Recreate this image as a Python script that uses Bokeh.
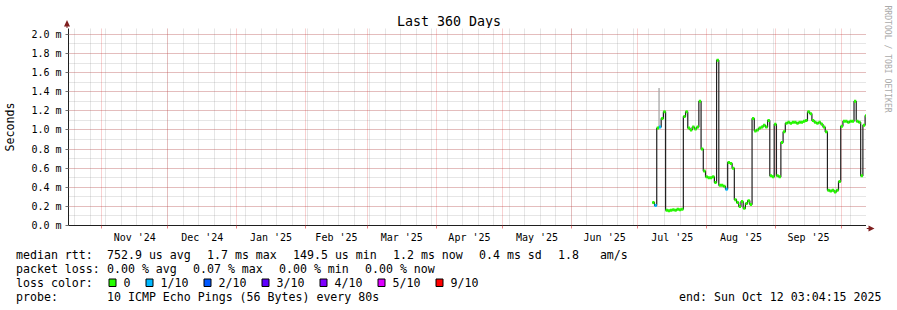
import math
import re
import pandas as pd
from bokeh.plotting import figure
from bokeh.layouts import column, row
from bokeh.models import (Range1d, FixedTicker, PrintfTickFormatter, Grid,
                          ColumnDataSource, CustomJSTickFormatter)
from bokeh.core.properties import value
from bokeh.embed import file_html
from bokeh.resources import INLINE

# ---------------- data ----------------
title = "Last 360 Days"
end_time = "2025-10-12 03:04:15"
span_days = 360
series_start = "2025-07-07 12:00"
step_hours = 24

median_ms = [0.24, 0.21, 1.02, 1.03, 1.12, 1.19, 0.16, 0.155, 0.16, 0.165,
             0.16, 0.17, 0.165, 0.17, 1.14, 1.19, 1.02, 1.00, 1.03, 1.01,
             1.03, 1.30, 0.80, 0.57, 0.51, 0.50, 0.50, 0.51, 0.45, 1.73,
             0.42, 0.42, 0.41, 0.38, 0.66, 0.65, 0.60, 0.27, 0.24, 0.20,
             0.25, 0.18, 0.23, 0.26, 0.22, 1.12, 0.99, 1.00, 1.02, 1.03,
             1.05, 1.03, 1.10, 0.52, 0.51, 1.06, 0.52, 0.51, 0.87, 0.98,
             1.07, 1.08, 1.07, 1.08, 1.08, 1.07, 1.08, 1.08, 1.09, 1.10,
             1.19, 1.17, 1.10, 1.08, 1.07, 1.08, 1.06, 1.03, 0.98, 0.37,
             0.36, 0.37, 0.35, 0.37, 0.46, 1.04, 1.09, 1.09, 1.08, 1.09,
             1.09, 1.30, 1.09, 1.08, 0.52, 1.05, 1.15]
loss_tenths = [0, 1, 0, 1, 0, 0, 0, 0, 0, 0,
               0, 0, 0, 0, 0, 0, 0, 0, 0, 0,
               0, 0, 0, 0, 0, 0, 0, 0, 0, 0,
               0, 0, 0, 1, 0, 0, 0, 0, 0, 0,
               0, 0, 0, 0, 0, 0, 0, 0, 0, 0,
               0, 0, 0, 0, 0, 0, 0, 0, 0, 0,
               0, 0, 0, 0, 0, 0, 0, 0, 0, 0,
               0, 0, 0, 0, 0, 0, 0, 0, 0, 0,
               0, 0, 0, 0, 0, 0, 0, 0, 0, 0,
               0, 0, 0, 0, 0, 0, 0]

smoke_time = ["2025-07-10 13:00"]
smoke_lo_ms = [1.03]
smoke_hi_ms = [1.44]

y_major = [0.0, 0.2, 0.4, 0.6, 0.8, 1.0, 1.2, 1.4, 1.6, 1.8, 2.0]
y_minor = [0.1, 0.3, 0.5, 0.7, 0.9, 1.1, 1.3, 1.5, 1.7, 1.9]
month_labels = ["Nov '24", "Dec '24", "Jan '25", "Feb '25", "Mar '25", "Apr '25",
                "May '25", "Jun '25", "Jul '25", "Aug '25", "Sep '25"]

loss_levels = [0, 1, 2, 3, 4, 5, 9]
loss_labels = ["0", "1/10", "2/10", "3/10", "4/10", "5/10", "9/10"]
loss_colors = ["#26ff00", "#00b8ff", "#0059ff", "#5e00ff", "#7e00ff", "#dd00ff", "#ff0000"]

rtt_stats = ["752.9 us avg", "1.7 ms max", "149.5 us min", "1.2 ms now", "0.4 ms sd", "1.8   am/s"]
loss_stats = ["0.00 % avg", "0.07 % max", "0.00 % min", "0.00 % now"]
probe_text = "10 ICMP Echo Pings (56 Bytes) every 80s"
end_text = "end: Sun Oct 12 03:04:15 2025"
watermark = "RRDTOOL / TOBI OETIKER"

# ---------------- helpers ----------------
EPOCH = pd.Timestamp("1970-01-01")


def ms(ts):
    return float((pd.Timestamp(ts) - EPOCH) / pd.Timedelta(milliseconds=1))


t1 = pd.Timestamp(end_time)
t0 = t1 - pd.Timedelta(days=span_days)

month_starts = pd.date_range("2024-11-01", "2025-10-01", freq="MS")
month_ms = [ms(m) for m in month_starts]
mid_ms = [(month_ms[i] + month_ms[i + 1]) / 2 for i in range(len(month_labels))]
week_ms = [ms(w) for w in pd.date_range("2024-10-20", t1, freq="7D")]

FONT = "DejaVu Sans Mono"
GRID_C = "#8f8f8f"
MGRID_C = "#de3030"
ARROW_C = "#7f1f1f"

W, H = 897, 310
L, T, FW, FH = 66, 28, 800, 200      # plot area inside the canvas
MAIN_BOTTOM = 245                    # where the legend block starts
RIGHT_W = W - L - FW                 # 31


def pixel_fig(x0, y0, w, h):
    """A figure whose frame fills it, in canvas pixel coordinates (y downwards)."""
    f = figure(width=w, height=h, x_range=Range1d(x0, x0 + w), y_range=Range1d(y0 + h, y0),
               output_backend="svg", toolbar_location=None,
               x_axis_location=None, y_axis_location=None, min_border=0)
    f.xgrid.visible = False
    f.ygrid.visible = False
    f.outline_line_color = None
    f.background_fill_color = "white"
    f.border_fill_color = "white"
    return f


def keep_spaces(txt):
    return re.sub(r" {2,}", lambda m: "\u00a0" * len(m.group()), txt)


def put_text(f, x, y, txt, size="11.6px", align="left", baseline="alphabetic",
             angle=0.0, color="black"):
    f.text(x=[x], y=[y], text=[keep_spaces(txt)], text_font=value(FONT),
           text_font_size=value(size), text_align=align, text_baseline=baseline,
           angle=angle, text_color=color)


# ---------------- main chart ----------------
p = figure(width=L + FW, height=MAIN_BOTTOM - T, x_axis_type="datetime",
           output_backend="svg", toolbar_location=None,
           x_range=Range1d(ms(t0), ms(t1)), y_range=Range1d(0, 2.062),
           min_border_left=L, min_border_right=0,
           min_border_top=0, min_border_bottom=MAIN_BOTTOM - T - FH)
p.background_fill_color = "white"
p.border_fill_color = "white"
p.outline_line_color = None

xg = p.xgrid[0]
xg.ticker = FixedTicker(ticks=week_ms)
xg.grid_line_color = GRID_C
xg.grid_line_alpha = 0.45
xg.grid_line_dash = "1 1"
yg = p.ygrid[0]
yg.ticker = FixedTicker(ticks=y_minor + y_major)
yg.grid_line_color = GRID_C
yg.grid_line_alpha = 0.45
yg.grid_line_dash = "1 1"
p.add_layout(Grid(dimension=0, ticker=FixedTicker(ticks=month_ms),
                  grid_line_color=MGRID_C, grid_line_alpha=0.45, grid_line_dash="1 1"))
p.add_layout(Grid(dimension=1, ticker=FixedTicker(ticks=y_major[1:]),
                  grid_line_color=MGRID_C, grid_line_alpha=0.45, grid_line_dash="1 1"))

xa = p.xaxis[0]
xa.ticker = FixedTicker(ticks=mid_ms, minor_ticks=month_ms)
xa.formatter = CustomJSTickFormatter(args=dict(mids=mid_ms, names=month_labels),
                                     code="const i = mids.indexOf(tick); return i < 0 ? '' : names[i];")
xa.axis_line_color = "#1f1f1f"
xa.major_tick_line_color = None
xa.major_tick_out = 0
xa.major_tick_in = 0
xa.minor_tick_line_color = MGRID_C
xa.minor_tick_line_alpha = 0.6
xa.minor_tick_out = 3
xa.minor_tick_in = 0
xa.major_label_text_font = FONT
xa.major_label_text_font_size = "10px"
xa.major_label_text_color = "black"
xa.major_label_standoff = 3

ya = p.yaxis[0]
ya.ticker = FixedTicker(ticks=y_major, minor_ticks=[])
ya.formatter = PrintfTickFormatter(format="%.1f m")
ya.axis_line_color = "#1f1f1f"
ya.major_tick_line_color = "#707070"
ya.major_tick_out = 3
ya.major_tick_in = 0
ya.minor_tick_line_color = None
ya.major_label_text_font = FONT
ya.major_label_text_font_size = "10px"
ya.major_label_text_color = "black"
ya.major_label_standoff = 4
ya.axis_label = "Seconds"
ya.axis_label_text_font = FONT
ya.axis_label_text_font_size = "11.6px"
ya.axis_label_text_font_style = "normal"
ya.axis_label_text_color = "black"
ya.axis_label_standoff = 11

times = pd.date_range(series_start, periods=len(median_ms), freq=f"{step_hours}h")
step = pd.Timedelta(hours=step_hours)
step_ms = step / pd.Timedelta(milliseconds=1)

p.vbar(x=pd.to_datetime(smoke_time), bottom=smoke_lo_ms, top=smoke_hi_ms,
       width=0.6 * 86400000, fill_color="#a8a8a8", line_color=None)

xs_line = list(times) + [times[-1] + step]
ys_line = list(median_ms) + [median_ms[-1]]
p.step(xs_line, ys_line, mode="after", line_color="#202020", line_width=1.2)

band_colors = [loss_colors[loss_levels.index(v)] for v in loss_tenths]
src = ColumnDataSource(dict(x=times + step / 2, y=median_ms, c=band_colors))
p.rect(x="x", y="y", width=step_ms, height=3, height_units="screen",
       fill_color="c", line_color=None, source=src)

# ---------------- top strip: title + y-axis arrow ----------------
top = pixel_fig(0, 0, L + FW, T)
put_text(top, 448.5, 20.5, title, size="13.3px", align="center")
top.patch([66.5, 63.5, 66.0, 66.0, 67.0, 67.0, 69.5],
          [19.5, 26.0, 26.0, 28.5, 28.5, 26.0, 26.0],
          fill_color=ARROW_C, line_color=None)

# ---------------- right strip: watermark + x-axis arrow ----------------
right = pixel_fig(L + FW, 0, RIGHT_W, MAIN_BOTTOM)
put_text(right, 887.5, 5, watermark, size="8.1px", align="left", baseline="middle",
         angle=-math.pi / 2, color="#aaaaaa")
right.patch([866.0, 868.0, 868.0, 874.0, 868.0, 868.0, 866.0],
            [227.5, 227.5, 225.0, 228.0, 231.0, 228.5, 228.5],
            fill_color=ARROW_C, line_color=None)

# ---------------- legend block ----------------
leg = pixel_fig(0, MAIN_BOTTOM, W, H - MAIN_BOTTOM)
CW = 7.0
rows = [254.0, 268.0, 282.0, 296.0]
put_text(leg, 15.5, rows[0], "median rtt:")
x = 106.5
for s in rtt_stats:
    put_text(leg, x, rows[0], s)
    x += len(s) * CW + 16
put_text(leg, 15.5, rows[1], "packet loss:")
x = 106.5
for s in loss_stats:
    put_text(leg, x, rows[1], s)
    x += len(s) * CW + 16
put_text(leg, 15.5, rows[2], "loss color:")
b = 108.5
box_l, box_r = [], []
for txt in loss_labels:
    box_l.append(b)
    box_r.append(b + 7)
    put_text(leg, b + 14.5, rows[2], txt)
    b = b + 14.5 + len(txt) * CW + 15.5
leg.quad(left=box_l, right=box_r, top=[278.5] * len(box_l), bottom=[286] * len(box_l),
         fill_color=loss_colors, line_color="black", line_width=1)
put_text(leg, 15.5, rows[3], "probe:")
put_text(leg, 106.5, rows[3], probe_text)
put_text(leg, 881, rows[3], end_text, align="right")

upper_left = column(row(top, spacing=0), p, spacing=0)
layout = column(row(upper_left, right, spacing=0), leg, spacing=0)

open("out.html", "w").write(file_html(layout, INLINE))
